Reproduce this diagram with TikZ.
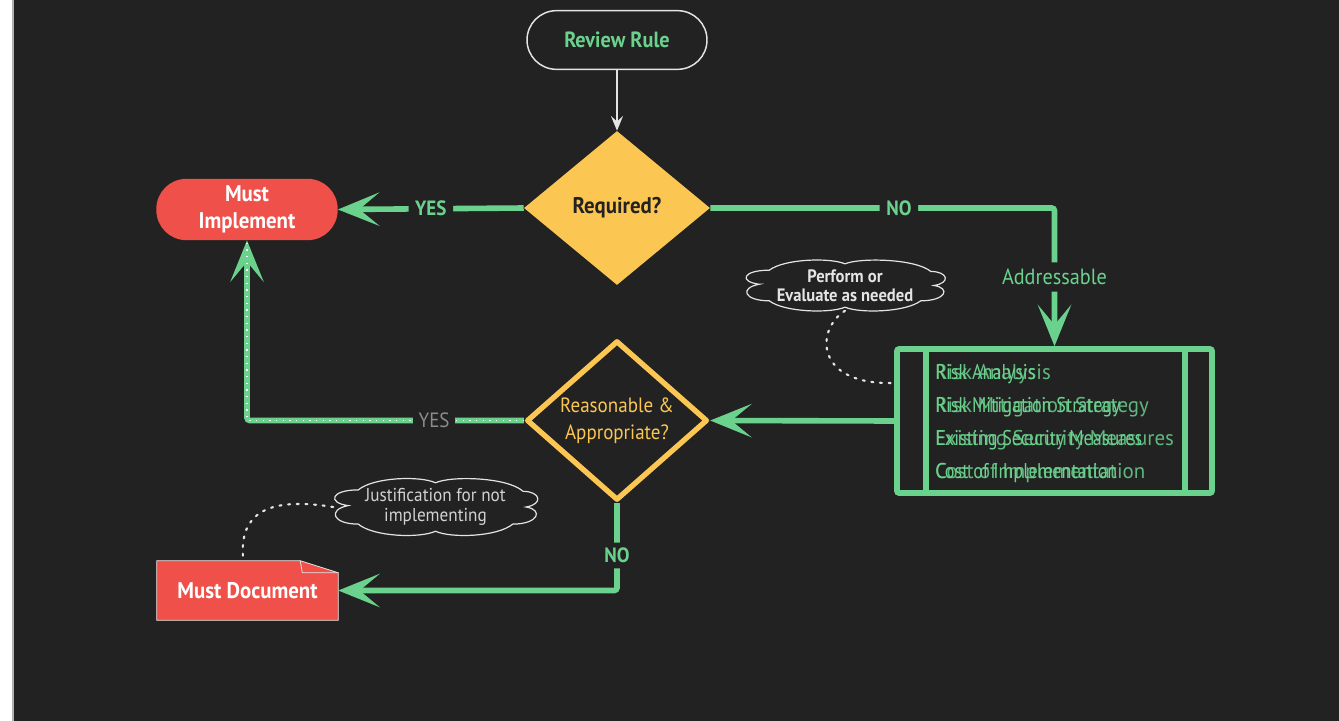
\documentclass[tikz,border=0pt]{standalone}
\usepackage{fontspec}
\setmainfont{PT Sans}[FakeStretch=0.92]
\newfontfamily\narrowfont{PT Sans}[FakeStretch=0.85]
\newfontfamily\widefont{PT Sans}[FakeStretch=0.98]
\usetikzlibrary{shapes.geometric,arrows.meta,calc}
\definecolor{bg}{HTML}{222222}
\definecolor{flowgreen}{HTML}{6BD28E}
\definecolor{gold}{HTML}{FCC653}
\definecolor{alertred}{HTML}{EF5049}
\definecolor{chalk}{HTML}{E4E4E4}
\definecolor{softgrey}{HTML}{D2D2D2}
\definecolor{dimgrey}{HTML}{8C8C8C}
% cloud outline in unit coordinates (y grows downward)
\newcommand{\puffoutline}{%
  (-0.85,-0.05) .. controls (-1.05,-0.15) and (-1.02,-0.6) .. (-0.75,-0.6)
  .. controls (-0.6,-1.05) and (-0.15,-1.1) .. (0,-0.85)
  .. controls (0.15,-1.1) and (0.7,-1.05) .. (0.85,-0.55)
  .. controls (1.02,-0.55) and (1.05,-0.1) .. (0.88,0)
  .. controls (1.05,0.1) and (1.0,0.6) .. (0.75,0.6)
  .. controls (0.6,1.05) and (0.15,1.1) .. (0,0.85)
  .. controls (-0.15,1.1) and (-0.6,1.05) .. (-0.75,0.6)
  .. controls (-1.0,0.6) and (-1.05,0.1) .. cycle}
\tikzset{
  startbox/.style={rectangle, rounded corners=22pt, draw=chalk, line width=1.1pt,
    fill=bg, minimum width=135pt, minimum height=44pt, text=flowgreen,
    font=\bfseries\fontsize{16.5}{18}\selectfont},
  choice/.style={diamond, fill=gold, inner sep=0pt, minimum width=139.5pt,
    minimum height=115.5pt, text=bg, font=\bfseries\fontsize{17}{18}\selectfont},
  choiceoutline/.style={diamond, draw=gold, line width=4pt, fill=bg, inner sep=0pt,
    line join=round, minimum width=135.75pt, minimum height=107.25pt, text=gold,
    align=center, font=\fontsize{15.5}{20.5}\selectfont},
  terminal/.style={rectangle, rounded corners=22.5pt, fill=alertred, inner sep=0pt,
    minimum width=136pt, minimum height=46pt, text=white, align=center,
    font=\bfseries\fontsize{17}{20}\selectfont},
  docbox/.style={rectangle, inner sep=0pt, minimum width=135.75pt, minimum height=44.25pt},
  processbox/.style={rectangle, draw=flowgreen, line width=4.2pt, fill=bg,
    rounded corners=1.5pt, minimum width=236.25pt, minimum height=108pt},
  flowline/.style={draw=flowgreen, line width=4.2pt, rounded corners=2pt},
  bigtip/.style={-{Stealth[length=31pt,width=25pt,inset=15pt]}},
  linelabel/.style={fill=bg, text=flowgreen, inner xsep=5pt, inner ysep=4pt,
    font=\bfseries\fontsize{15.5}{18}\selectfont},
  plainlabel/.style={fill=bg, text=flowgreen, inner xsep=5pt, inner ysep=5pt,
    font=\fontsize{16.5}{18}\selectfont},
  greylabel/.style={fill=bg, text=dimgrey, inner xsep=4pt, inner ysep=4pt,
    font=\fontsize{15.5}{18}\selectfont},
  notearea/.style={rectangle, inner sep=0pt},
  puff/.style={draw=chalk, line width=0.9pt, fill=bg},
  notetext/.style={align=center, inner sep=0pt},
  notelink/.style={draw=chalk, line width=1.6pt, line cap=round,
    dash pattern=on 1.5pt off 5pt},
  whitedots/.style={draw=white, line width=1pt, dash pattern=on 1pt off 4pt},
  itemtext/.style={anchor=base west, inner sep=0pt, text=flowgreen},
}
\begin{document}
\begin{tikzpicture}[x=0.75pt,y=-0.75pt]
% page frame
\fill[white] (0,0) rectangle (12,721);
\fill[bg] (12,0) rectangle (1339,721);
\fill[gray!60] (12,0) rectangle (13.5,721);
\useasboundingbox (0,0) rectangle (1339,721);

% nodes
\node[startbox] (review) at (617,40) {Review Rule};
\node[choice] (req) at (617,208) {Required?};
\node[terminal] (impl) at (247,209.5) {Must\\Implement};
\node[choiceoutline] (rap) at (617,420.5) {Reasonable \&\\Appropriate?};
\node[processbox] (risk) at (1054.5,421) {};
\draw[flowgreen, line width=4.2pt] ($(risk.north west)+(32,0)$) -- ($(risk.south west)+(32,0)$);
\draw[flowgreen, line width=4.2pt] ($(risk.north east)+(-30,0)$) -- ($(risk.south east)+(-30,0)$);

% process contents, set twice at two widths
\foreach \txt/\yy in {Risk Analysis/379, Risk Mitigation Strategy/412.5, Existing Security Measures/445, Cost of Implementation/478}{
  \node[itemtext, font=\narrowfont\fontsize{16}{18}\selectfont] at (935,\yy) {\txt};
  \node[itemtext, opacity=0.85, font=\widefont\fontsize{16}{18}\selectfont] at (935,\yy) {\txt};
}

% document shape with folded corner
\path node[docbox] (md) at (247.5,590.5) {};
\filldraw[fill=alertred, draw=chalk, line width=0.6pt]
  (md.south west) -- (md.north west) -- ($(md.north east)+(-38,0)$)
  -- ($(md.north east)+(0,12)$) -- (md.south east) -- cycle;
\draw[chalk, line width=0.6pt] ($(md.north east)+(-38,0)$) -- ($(md.north east)+(-36,12)$) -- ($(md.north east)+(0,12)$);
\node[text=white, font=\bfseries\fontsize{17}{18}\selectfont] (mdtext) at (md.center) {Must Document};

% notes
\path node[notearea, minimum width=150pt, minimum height=37.5pt] (perform) at (845,285.5) {};
\begin{scope}[shift={(perform.center)}, xscale=101, yscale=25.5]
  \path[puff] \puffoutline;
\end{scope}
\node[notetext, text=chalk, font=\bfseries\fontsize{13.5}{14.5}\selectfont] at (perform.center) {Perform or\\Evaluate as needed};

\path node[notearea, minimum width=153pt, minimum height=42pt] (justify) at (435.5,507) {};
\begin{scope}[shift={(justify.center)}, xscale=103, yscale=28.5]
  \path[puff] \puffoutline;
\end{scope}
\node[notetext, text=softgrey, font=\fontsize{14}{14.5}\selectfont] at (justify.center) {Justification for not\\implementing};

\coordinate (riskfeed) at (893,383);
\coordinate (docfeed) at (243,557);
\draw[notelink] (perform.south) .. controls (815,330) and (815,385) .. (riskfeed);
\draw[notelink] (justify.west) .. controls (265,496) and (240,515) .. (docfeed);

% connectors
\draw[chalk, line width=1.1pt, -{Stealth[length=11pt,width=9pt,inset=4pt]}] (review.south) -- (req.north);
\draw[flowline, bigtip] (req.west) -- node[linelabel] {YES} (impl.east);
\draw[flowline, bigtip] (req.east) -| node[pos=0.274, linelabel] {NO}
  node[pos=0.75, plainlabel] {Addressable} (risk.north);
\draw[flowline, bigtip] (risk.west) -- (rap.east);
\draw[flowline, bigtip] (rap.west) -| (impl.south);
\draw[whitedots] (rap.west) -| node[pos=0.162, greylabel] {YES} (impl.south);
\draw[flowline, bigtip] (rap.south) |- node[pos=0.30, linelabel] {NO} (md.east);
\end{tikzpicture}
\end{document}
